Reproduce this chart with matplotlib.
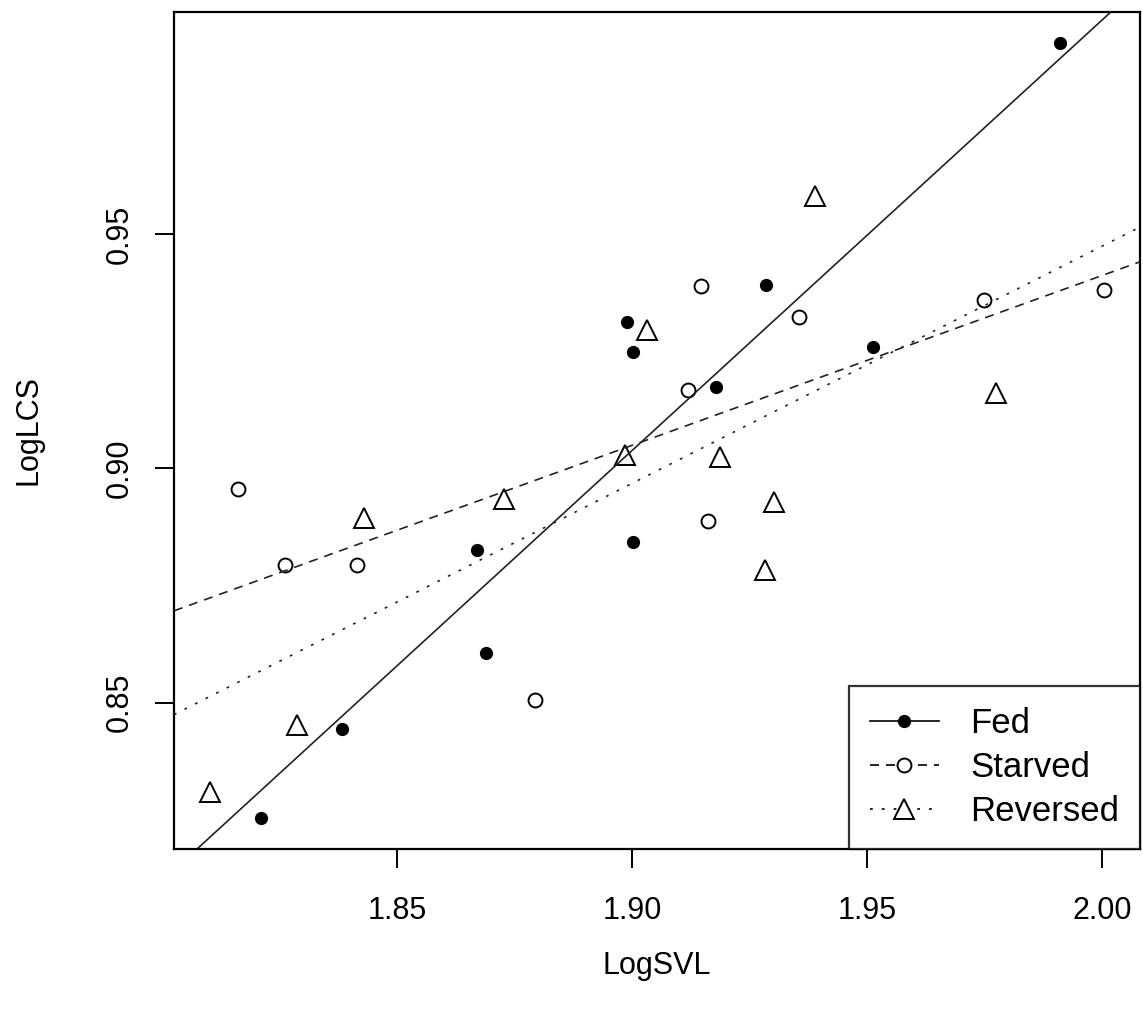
import numpy as np
import matplotlib
matplotlib.use("Agg")
import matplotlib.pyplot as plt
from matplotlib.lines import Line2D

plt.rcParams["font.family"] = ["Liberation Sans", "DejaVu Sans"]
plt.rcParams["lines.scale_dashes"] = False

# Fed (filled circles)
fed_svl = [1.8212, 1.8384, 1.8670, 1.8690, 1.8989, 1.9002, 1.9002, 1.9178, 1.9286, 1.9513, 1.9910]
fed_lcs = [0.8254, 0.8444, 0.8825, 0.8607, 0.9312, 0.9248, 0.8844, 0.9173, 0.9391, 0.9259, 0.9908]

# Starved (open circles)
starved_svl = [1.8163, 1.8263, 1.8416, 1.8794, 1.9119, 1.9148, 1.9161, 1.9355, 1.9749, 2.0005]
starved_lcs = [0.8957, 0.8793, 0.8793, 0.8506, 0.9167, 0.9389, 0.8887, 0.9323, 0.9359, 0.9380]

# Reversed (open triangles)
reversed_svl = [1.8102, 1.8288, 1.8430, 1.8728, 1.8985, 1.9032, 1.9187, 1.9284, 1.9303, 1.9390, 1.9775]
reversed_lcs = [0.8310, 0.8453, 0.8895, 0.8934, 0.9028, 0.9295, 0.9024, 0.8784, 0.8929, 0.9581, 0.9162]

groups = ["Fed", "Starved", "Reversed"]
x_ticks = [1.85, 1.90, 1.95, 2.00]
y_ticks = [0.85, 0.90, 0.95]

fig = plt.figure(figsize=(11.43, 10.23), dpi=100)
ax = fig.add_axes([0.1522, 0.1701, 0.8452, 0.8182])

# R-style limits: data range padded by 4%
all_x = np.array(fed_svl + starved_svl + reversed_svl)
all_y = np.array(fed_lcs + starved_lcs + reversed_lcs)
px = 0.04 * (all_x.max() - all_x.min())
py = 0.04 * (all_y.max() - all_y.min())
ax.set_xlim(all_x.min() - px, all_x.max() + px)
ax.set_ylim(all_y.min() - py, all_y.max() + py)

ax.plot(fed_svl, fed_lcs, "o", ms=8.5, mfc="black", mec="black", ls="none")
ax.plot(starved_svl, starved_lcs, "o", ms=10, mfc="white", mec="black", mew=1.4, ls="none")
ax.plot(reversed_svl, reversed_lcs, "^", ms=14.5, mfc="white", mec="black", mew=1.4, ls="none")

styles = ["-", (0, (6.5, 5)), (0, (2, 6.5))]
for (xs, ys), st in zip([(fed_svl, fed_lcs), (starved_svl, starved_lcs),
                         (reversed_svl, reversed_lcs)], styles):
    b, a = np.polyfit(xs, ys, 1)
    ax.axline((0, a), slope=b, color="#222222", lw=1.2, ls=st)

ax.set_xticks(x_ticks)
ax.set_xticklabels([f"{v:.2f}" for v in x_ticks])
ax.set_yticks(y_ticks)
ax.set_yticklabels([f"{v:.2f}" for v in y_ticks], rotation=90, va="center")
ax.tick_params(axis="x", length=14, width=1.4, labelsize=22, pad=20)
ax.tick_params(axis="y", length=14, width=1.4, labelsize=22, pad=14)
for s in ax.spines.values():
    s.set_linewidth(1.6)
ax.set_xlabel("LogSVL", fontsize=22, labelpad=18)
ax.set_ylabel("LogLCS", fontsize=22, labelpad=44)

handles = [
    Line2D([], [], color="black", lw=1.2, ls="-", marker="o", ms=8.5, mfc="black"),
    Line2D([], [], color="black", lw=1.2, ls=(0, (6.5, 5)), marker="o", ms=10, mfc="white", mew=1.4),
    Line2D([], [], color="black", lw=1.2, ls=(0, (2, 6.5)), marker="^", ms=14.5, mfc="white", mew=1.4),
]
leg = ax.legend(handles, groups, loc="lower right", fontsize=25, frameon=True,
                fancybox=False, borderaxespad=0, handlelength=2.0, handletextpad=0.9,
                labelspacing=0.32, borderpad=0.6)
leg.get_frame().set_edgecolor("black")
leg.get_frame().set_linewidth(1.6)

fig.savefig("out.png", dpi=100)
